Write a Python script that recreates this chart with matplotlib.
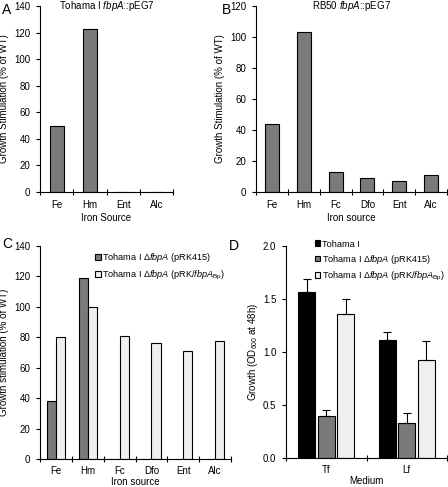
import numpy as np
import matplotlib
matplotlib.use("Agg")
import matplotlib.pyplot as plt

plt.rcParams['font.family'] = ['Liberation Sans', 'DejaVu Sans']
plt.rcParams['font.size'] = 7
plt.rcParams['mathtext.fontset'] = 'custom'
plt.rcParams['mathtext.rm'] = 'Liberation Sans'
plt.rcParams['mathtext.it'] = 'Liberation Sans:italic'
plt.rcParams['axes.linewidth'] = 0.8

# Panel A data
a_sources = ['Fe', 'Hm', 'Ent', 'Alc']
a_values = [50, 123, 0, 0]

# Panel B data
b_sources = ['Fe', 'Hm', 'Fc', 'Dfo', 'Ent', 'Alc']
b_values = [44, 103, 13, 9, 7, 11]

# Panel C data
c_sources = ['Fe', 'Hm', 'Fc', 'Dfo', 'Ent', 'Alc']
c_prk415 = [38, 119, 0, 0, 0, 0]
c_prkfbpa = [80.5, 100, 81, 76, 71, 77.5]

# Panel D data
d_media = ['Tf', 'Lf']
d_tohama = [1.57, 1.11]
d_tohama_err = [0.12, 0.08]
d_prk415 = [0.40, 0.33]
d_prk415_err = [0.05, 0.09]
d_prkfbpa = [1.36, 0.92]
d_prkfbpa_err = [0.14, 0.18]

dark = '#7a7a7a'
light = '#efefef'

W, H = 448, 487
fig = plt.figure(figsize=(W / 100, H / 100), dpi=100)

def box(l, r, t, b):
    return [l / W, (H - b) / H, (r - l) / W, (b - t) / H]

def style(ax, n, ymax, ystep):
    ax.spines['top'].set_visible(False)
    ax.spines['right'].set_visible(False)
    ax.set_xlim(-0.5, n - 0.5)
    ax.set_ylim(0, ymax)
    ax.set_yticks(np.arange(0, ymax + ystep / 2, ystep))
    ax.set_xticks(np.arange(n))
    ax.set_xticks(np.arange(-0.5, n, 1.0), minor=True)
    ax.tick_params(axis='x', which='major', length=0, pad=6)
    ax.tick_params(axis='x', which='minor', direction='inout', length=4, width=0.8)
    ax.tick_params(axis='y', direction='out', length=3, width=0.8, pad=4)

leg_kw = dict(loc='upper left', frameon=False, handlelength=0.6,
              handleheight=0.6, handletextpad=0.15, labelspacing=0.45,
              borderaxespad=0, borderpad=0, fontsize=6.6)

# A
axA = fig.add_axes(box(40, 173, 6, 192))
axA.bar(np.arange(len(a_sources)), a_values, width=0.42, color=dark,
        edgecolor='black', linewidth=0.8)
style(axA, len(a_sources), 140, 20)
axA.set_xticklabels(a_sources)
axA.set_ylabel('Growth Stimulation (% of WT)', labelpad=4)
axA.set_xlabel('Iron Source', labelpad=2)
axA.text(0.5, 1.0, 'Tohama I $\\it{fbpA}$::pEG7', transform=axA.transAxes,
         ha='center', va='center')

# B
axB = fig.add_axes(box(256, 447, 6, 192))
axB.bar(np.arange(len(b_sources)), b_values, width=0.44, color=dark,
        edgecolor='black', linewidth=0.8)
style(axB, len(b_sources), 120, 20)
axB.set_xticklabels(b_sources)
axB.set_ylabel('Growth Stimulation (% of WT)', labelpad=4)
axB.set_xlabel('Iron source', labelpad=2)
axB.text(0.5, 1.0, 'RB50 $\\it{fbpA}$::pEG7', transform=axB.transAxes,
         ha='center', va='center')

# C
axC = fig.add_axes(box(40, 231, 246, 459))
xc = np.arange(len(c_sources))
axC.bar(xc - 0.145, c_prk415, width=0.29, color=dark, edgecolor='black',
        linewidth=0.8, label='Tohama I $\\Delta\\it{fbpA}$ (pRK415)')
axC.bar(xc + 0.145, c_prkfbpa, width=0.29, color=light, edgecolor='black',
        linewidth=0.8, label='Tohama I $\\Delta\\it{fbpA}$ (pRK/$\\it{fbpA}_{\\rm Bp}$)')
style(axC, len(c_sources), 140, 20)
axC.tick_params(axis='x', which='major', pad=5)
axC.set_xticklabels(c_sources)
axC.set_ylabel('Growth stimulation (% of WT)', labelpad=4)
axC.set_xlabel('Iron source', labelpad=1)
axC.legend(bbox_to_anchor=(0.29, 0.975), **leg_kw)

# D
axD = fig.add_axes(box(286, 447, 246, 458))
xd = np.arange(len(d_media))
z = [0, 0]
ekw = dict(elinewidth=0.8, capthick=0.8, ecolor='black')
axD.bar(xd - 0.24, d_tohama, width=0.21, color='black', edgecolor='black',
        linewidth=0.8, yerr=[z, d_tohama_err], capsize=3, error_kw=ekw,
        label='Tohama I')
axD.bar(xd, d_prk415, width=0.21, color=dark, edgecolor='black',
        linewidth=0.8, yerr=[z, d_prk415_err], capsize=3, error_kw=ekw,
        label='Tohama I $\\Delta\\it{fbpA}$ (pRK415)')
axD.bar(xd + 0.24, d_prkfbpa, width=0.21, color=light, edgecolor='black',
        linewidth=0.8, yerr=[z, d_prkfbpa_err], capsize=3, error_kw=ekw,
        label='Tohama I $\\Delta\\it{fbpA}$ (pRK/$\\it{fbpA}_{\\rm Bp}$)')
style(axD, len(d_media), 2.0, 0.5)
axD.tick_params(axis='x', which='major', pad=5)
axD.set_yticklabels(['0.0', '0.5', '1.0', '1.5', '2.0'])
axD.set_xticklabels(d_media)
axD.set_ylabel('Growth (OD$_{600}$ at 48h)', labelpad=2)
axD.set_xlabel('Medium', labelpad=1)
axD.legend(bbox_to_anchor=(0.18, 1.03), **leg_kw)

# panel letters
fig.text(2 / W, 1 - 10 / H, 'A', fontsize=10, va='center')
fig.text(222 / W, 1 - 10 / H, 'B', fontsize=10, va='center')
fig.text(2 / W, 1 - 244 / H, 'C', fontsize=10, va='center')
fig.text(229 / W, 1 - 246 / H, 'D', fontsize=10, va='center')

fig.savefig('out.png', dpi=100)
